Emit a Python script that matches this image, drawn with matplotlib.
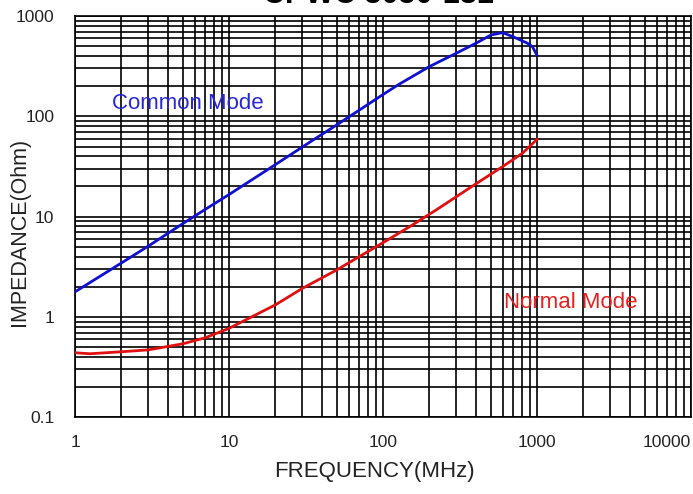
import numpy as np
import matplotlib.pyplot as plt

plt.rcParams['font.family'] = ['Liberation Sans', 'DejaVu Sans']

# common mode impedance (blue)
cm_freq = [1, 2, 3, 5, 7, 10, 20, 33, 50, 100, 128, 200, 305, 401, 502, 597, 711, 867, 934, 997]
cm_imp = [1.78, 3.45, 5.1, 8.5, 11.8, 16.6, 33, 54.5, 82, 165, 210, 313, 432, 535, 646, 683, 615, 535, 495, 409]

# normal mode impedance (red)
nm_freq = [1, 1.25, 2, 3, 5, 7, 10, 20, 30, 50, 70, 100, 150, 226, 391, 597, 804, 1000]
nm_imp = [0.44, 0.43, 0.45, 0.47, 0.54, 0.62, 0.77, 1.32, 1.93, 2.94, 3.99, 5.5, 8.0, 11.9, 20.7, 31.5, 42.8, 59]

x_ticks = [1, 10, 100, 1000, 10000]
x_ticklabels = ['1', '10', '100', '1000', '10000']
y_ticks = [0.1, 1, 10, 100, 1000]
y_ticklabels = ['0.1', '1', '10', '100', '1000']

fig = plt.figure(figsize=(6.93, 4.94), dpi=100)
ax = fig.add_axes([75 / 693, 1 - 417.3 / 494, 616 / 693, (417.3 - 16) / 494])

ax.plot(cm_freq, cm_imp, color='#1010d0', lw=2.0, zorder=3)
ax.plot(nm_freq, nm_imp, color='#e01010', lw=2.0, zorder=3)

ax.set_xscale('log')
ax.set_yscale('log')
ax.set_xlim(1, 10000)
ax.set_ylim(0.1, 1000)

ax.set_xticks(x_ticks)
ax.set_xticklabels(x_ticklabels)
ax.set_yticks(y_ticks)
ax.set_yticklabels(y_ticklabels)
ax.xaxis.get_ticklabels()[-1].set_horizontalalignment('right')
ax.tick_params(which='both', length=0, labelsize=12.5, colors='#222222')
ax.tick_params(axis='x', pad=13)
ax.tick_params(axis='y', pad=15)
ax.minorticks_on()
ax.tick_params(which='minor', labelbottom=False, labelleft=False)

ax.grid(True, which='both', color='black', lw=1.2)
for s in ax.spines.values():
    s.set_color('black')
    s.set_linewidth(1.2)

ax.text(1.75, 135, 'Common Mode', color='#2828d8', fontsize=16, va='center', ha='left')
ax.text(610, 1.38, 'Normal Mode', color='#e82020', fontsize=16, va='center', ha='left')

fig.text(374 / 693, 1 - 471 / 494, 'FREQUENCY(MHz)', fontsize=16, ha='center', va='center', color='#222222')
fig.text(20 / 693, 1 - 232 / 494, 'IMPEDANCE(Ohm)', fontsize=15.5, ha='center', va='center',
         rotation=90, color='#222222')
# title is cut by the top edge, as in the source image
fig.text(378 / 693, 1 - 3 / 494, 'CPWC 3050-181', fontsize=22, fontweight='bold',
         ha='center', va='baseline')

fig.savefig('out.png', dpi=100)
